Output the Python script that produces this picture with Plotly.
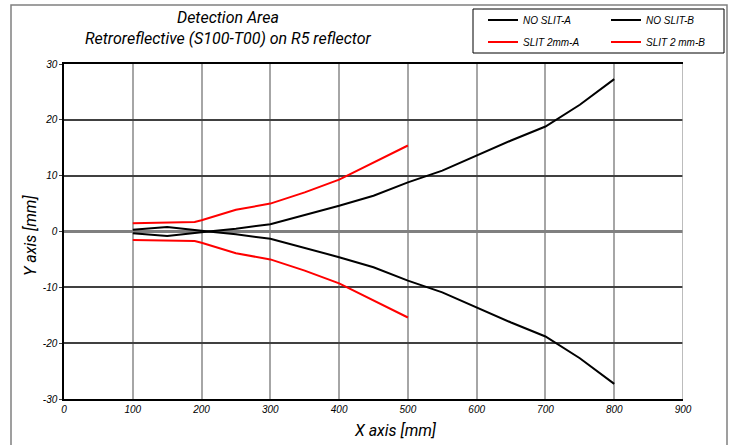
import plotly.graph_objects as go

x_noslit = [100, 150, 210, 250, 300, 350, 400, 450, 500, 550, 600, 650, 700, 750, 800]
y_noslit_a = [-0.3, -0.8, 0.0, 0.5, 1.3, 2.9, 4.6, 6.4, 8.8, 10.9, 13.6, 16.3, 18.8, 22.7, 27.3]
y_noslit_b = [-v for v in y_noslit_a]

x_slit = [100, 150, 190, 200, 250, 300, 350, 400, 450, 500]
y_slit_a = [1.5, 1.6, 1.7, 2.0, 3.9, 5.0, 7.0, 9.3, 12.3, 15.4]
y_slit_b = [-v for v in y_slit_a]

names = ["NO SLIT-A", "NO SLIT-B", "SLIT 2mm-A", "SLIT 2 mm-B"]

x_ticks = [0, 100, 200, 300, 400, 500, 600, 700, 800, 900]
y_ticks = [-30, -20, -10, 0, 10, 20, 30]
y_ticktext = ["-30", "-20", "-10", "0", "10", "20", "30"]

fig = go.Figure()
fig.add_trace(go.Scatter(x=x_noslit, y=y_noslit_a, mode="lines", name=names[0],
                         line=dict(color="black", width=2), legend="legend"))
fig.add_trace(go.Scatter(x=x_noslit, y=y_noslit_b, mode="lines", name=names[1],
                         line=dict(color="black", width=2), legend="legend"))
fig.add_trace(go.Scatter(x=x_slit, y=y_slit_a, mode="lines", name=names[2],
                         line=dict(color="#ff0000", width=2), legend="legend2"))
fig.add_trace(go.Scatter(x=x_slit, y=y_slit_b, mode="lines", name=names[3],
                         line=dict(color="#ff0000", width=2), legend="legend2"))

W, H = 731, 445
L, R, T, B = 64, 48, 64, 46
PW, PH = W - L - R, H - T - B


def px(xp):
    return (xp - L) / PW


def py(yp):
    return (H - B - yp) / PH


tickfont = dict(family="Liberation Sans", size=10, color="black", style="italic")
titlefont = dict(family="Roboto", size=16, color="black", style="italic")
legfont = dict(family="Liberation Sans", size=10, style="italic", color="black")

leg_common = dict(orientation="h", xanchor="left", yanchor="middle",
                  borderwidth=0, bgcolor="rgba(0,0,0,0)", entrywidth=78, font=legfont)

fig.update_layout(
    width=W, height=H,
    margin=dict(l=L, r=R, t=T, b=B, autoexpand=False),
    paper_bgcolor="white", plot_bgcolor="white",
    showlegend=True,
    legend=dict(x=px(483), y=py(20), **leg_common),
    legend2=dict(x=px(483), y=py(42), **leg_common),
    xaxis=dict(range=[0, 900], tickvals=x_ticks,
               showgrid=True, gridcolor="#a6a6a6", gridwidth=1.5,
               zeroline=False, showline=True, linecolor="black", linewidth=1.5, mirror=True,
               ticks="", tickfont=tickfont),
    yaxis=dict(range=[-30, 30], tickvals=y_ticks, ticktext=y_ticktext,
               showgrid=True, gridcolor="#404040", gridwidth=1.5,
               zeroline=True, zerolinecolor="#808080", zerolinewidth=2.5,
               showline=True, linecolor="black", linewidth=1.5,
               ticks="outside", ticklen=3, tickcolor="#404040", tickfont=tickfont),
    annotations=[
        dict(text="Detection Area<br>Retroreflective (S100-T00) on R5 reflector",
             xref="paper", yref="paper", x=px(228), y=py(28),
             xanchor="center", yanchor="middle", align="center", showarrow=False,
             font=dict(family="Roboto", size=16, color="black", style="italic")),
        dict(text="X axis [mm]", xref="paper", yref="paper", x=px(395),
             y=py(430), xanchor="center", yanchor="middle", showarrow=False,
             font=titlefont),
        dict(text="Y axis [mm]", xref="paper", yref="paper", x=px(30),
             y=py(236), xanchor="center", yanchor="middle", showarrow=False,
             textangle=-90, font=titlefont),
    ],
    shapes=[
        dict(type="rect", xref="paper", yref="paper",
             x0=px(11), x1=px(727), y0=py(460), y1=py(5),
             line=dict(color="#808080", width=1.5), fillcolor="rgba(0,0,0,0)", layer="below"),
        dict(type="rect", xref="paper", yref="paper",
             x0=px(473), x1=px(724), y0=py(53), y1=py(9),
             line=dict(color="black", width=1), fillcolor="rgba(0,0,0,0)", layer="below"),
        dict(type="line", xref="x", yref="paper", x0=900, x1=900, y0=0, y1=1,
             line=dict(color="#a6a6a6", width=1.5)),
    ],
)

fig.write_html("out.html", config={"displayModeBar": False},
               post_script="document.body.style.margin='0px';")
